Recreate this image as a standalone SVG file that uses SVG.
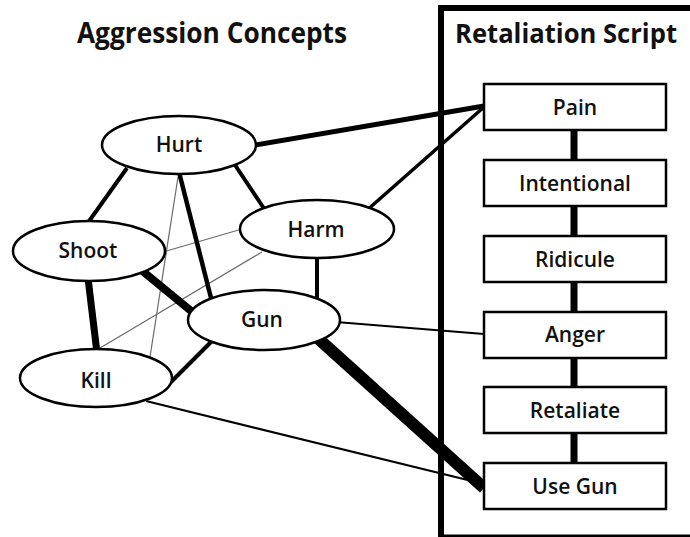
<svg xmlns="http://www.w3.org/2000/svg" width="690" height="537" viewBox="0 0 690 537">
<style>
.t{font-family:"Open Sans","Noto Sans","Liberation Sans",sans-serif;font-weight:600;fill:#111;text-anchor:middle}
.title{font-size:28px;font-weight:700}
.lbl{font-size:21px}
.node{fill:#fff;stroke:#000;stroke-width:2.5}
.box{fill:#fff;stroke:#000;stroke-width:2.5}
.e{stroke:#000;fill:none;stroke-linecap:butt}
.thin{stroke:#6a6a6a;stroke-width:1.2}
</style>
<rect width="690" height="537" fill="#fff"/>
<text class="t title" x="212" y="43" textLength="270" lengthAdjust="spacingAndGlyphs">Aggression Concepts</text>
<path d="M 700 8 H 441 V 537" fill="none" stroke="#000" stroke-width="6"/>
<line x1="441" y1="536" x2="690" y2="536" stroke="#000" stroke-width="3"/>
<text class="t title" x="566" y="43" style="font-size:26px" textLength="222" lengthAdjust="spacingAndGlyphs">Retaliation Script</text>
<g id="connectors">
<line class="e thin" x1="178" y1="177" x2="150" y2="357"/>
<line class="e thin" x1="242" y1="229" x2="163" y2="252"/>
<line class="e thin" x1="262" y1="252" x2="100" y2="348"/>
<line class="e" stroke-width="5" x1="250" y1="146" x2="484" y2="106"/>
<line class="e" stroke-width="3.5" x1="366" y1="211" x2="484" y2="107"/>
<line class="e" stroke-width="4" x1="127" y1="168" x2="87" y2="224"/>
<line class="e" stroke-width="4" x1="235" y1="165" x2="265" y2="210"/>
<line class="e" stroke-width="4.5" x1="179" y1="172" x2="211" y2="298"/>
<line class="e" stroke-width="8" x1="140" y1="269" x2="196" y2="315"/>
<line class="e" stroke-width="7" x1="88" y1="278" x2="97" y2="353"/>
<line class="e" stroke-width="4" x1="317" y1="255" x2="317" y2="299"/>
<line class="e" stroke-width="4" x1="213" y1="340" x2="170" y2="383"/>
<line class="e" stroke-width="2.2" x1="336" y1="322" x2="484" y2="334"/>
<line class="e" stroke-width="12" x1="312" y1="333" x2="484" y2="488"/>
<line class="e" stroke-width="2.2" x1="146" y1="401" x2="484" y2="484"/>
<line class="e" stroke-width="7" x1="574" y1="130" x2="574" y2="161"/>
<line class="e" stroke-width="7" x1="574" y1="206" x2="574" y2="237"/>
<line class="e" stroke-width="7" x1="574" y1="282" x2="574" y2="313"/>
<line class="e" stroke-width="7" x1="574" y1="358" x2="574" y2="388"/>
<line class="e" stroke-width="7" x1="574" y1="433" x2="574" y2="464"/>
</g>
<g id="hurt"><ellipse class="node" cx="179" cy="145" rx="77" ry="29"/><text class="t lbl" x="179" y="152">Hurt</text></g>
<g id="harm"><ellipse class="node" cx="317" cy="229" rx="77" ry="29"/><text class="t lbl" x="316" y="237">Harm</text></g>
<g id="shoot"><ellipse class="node" cx="89" cy="251" rx="76" ry="30"/><text class="t lbl" x="88" y="258">Shoot</text></g>
<g id="gun"><ellipse class="node" cx="264" cy="320" rx="76" ry="30"/><text class="t lbl" x="262" y="327">Gun</text></g>
<g id="kill"><ellipse class="node" cx="96" cy="378" rx="76" ry="29"/><text class="t lbl" x="96" y="388">Kill</text></g>
<g id="pain"><rect class="box" x="484" y="84" width="182" height="46"/><text class="t lbl" x="575" y="115">Pain</text></g>
<g id="intentional"><rect class="box" x="484" y="160" width="182" height="46"/><text class="t lbl" x="575" y="191">Intentional</text></g>
<g id="ridicule"><rect class="box" x="484" y="236" width="182" height="46"/><text class="t lbl" x="575" y="267">Ridicule</text></g>
<g id="anger"><rect class="box" x="484" y="312" width="182" height="46"/><text class="t lbl" x="575" y="342">Anger</text></g>
<g id="retaliate"><rect class="box" x="484" y="387" width="182" height="46"/><text class="t lbl" x="575" y="418">Retaliate</text></g>
<g id="usegun"><rect class="box" x="484" y="463" width="182" height="46"/><text class="t lbl" x="575" y="494">Use Gun</text></g>
</svg>
